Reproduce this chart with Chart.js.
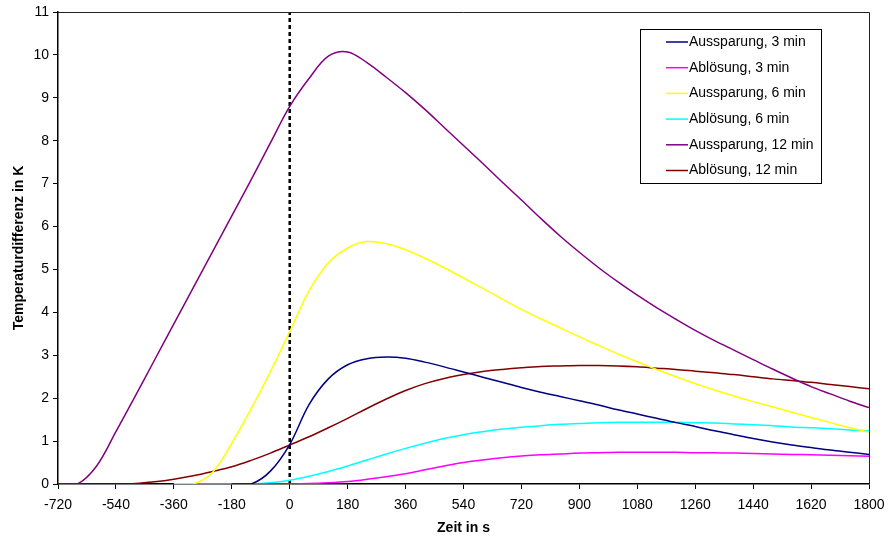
<!DOCTYPE html>
<html>
<head>
<meta charset="utf-8">
<script src="https://cdn.jsdelivr.net/npm/chart.js@4"></script>
<style>
  html, body { margin: 0; padding: 0; background: #fff; }
  #wrap { width: 889px; height: 539px; }
</style>
</head>
<body>
<div id="wrap"><canvas id="chart" width="889" height="539"></canvas></div>
<script>
// time axis in seconds, one sample every 60 s
const times = [
  -720, -660, -600, -540, -480, -420, -360, -300, -240, -180, -120, -60,
  0, 60, 120, 180, 240, 300, 360, 420, 480, 540, 600, 660, 720, 780, 840,
  900, 960, 1020, 1080, 1140, 1200, 1260, 1320, 1380, 1440, 1500, 1560,
  1620, 1680, 1740, 1800
];
const xTicks = [-720, -540, -360, -180, 0, 180, 360, 540, 720, 900, 1080, 1260, 1440, 1620, 1800];
const yTicks = [0, 1, 2, 3, 4, 5, 6, 7, 8, 9, 10, 11];

const aussparung3 = [
  null, null, null, null, null, null, null, null, null, 0, 0, 0.3,
  0.92, 1.85, 2.45, 2.78, 2.92, 2.96, 2.93, 2.84, 2.73, 2.61, 2.49, 2.37, 2.25, 2.14, 2.04,
  1.94, 1.84, 1.73, 1.63, 1.53, 1.43, 1.34, 1.24, 1.15, 1.06, 0.98, 0.91,
  0.85, 0.79, 0.74, 0.69
];
const abloesung3 = [
  null, null, null, null, null, null, null, null, null, 0, 0, 0,
  0, 0.01, 0.03, 0.06, 0.11, 0.17, 0.24, 0.33, 0.42, 0.5, 0.56, 0.61, 0.65, 0.68, 0.7,
  0.72, 0.73, 0.74, 0.74, 0.74, 0.74, 0.73, 0.73, 0.72, 0.71, 0.7, 0.69,
  0.68, 0.67, 0.66, 0.645
];
const aussparung6 = [
  null, null, null, null, null, null, 0, 0, 0.27, 0.95, 1.75, 2.62,
  3.55, 4.5, 5.15, 5.5, 5.65, 5.6, 5.46, 5.26, 5.04, 4.8, 4.56, 4.31, 4.07, 3.85, 3.64,
  3.43, 3.23, 3.03, 2.85, 2.67, 2.5, 2.34, 2.19, 2.05, 1.92, 1.8, 1.67,
  1.55, 1.43, 1.31, 1.21
];
const abloesung6 = [
  null, null, null, null, null, null, 0, 0, 0, 0, 0, 0.03,
  0.09, 0.18, 0.29, 0.42, 0.56, 0.7, 0.83, 0.95, 1.06, 1.15, 1.22, 1.28, 1.32, 1.36, 1.39,
  1.41, 1.43, 1.44, 1.44, 1.44, 1.44, 1.43, 1.42, 1.4, 1.38, 1.36, 1.33,
  1.31, 1.29, 1.26, 1.24
];
const aussparung12 = [
  0, 0, 0.42, 1.22, 2.05, 2.89, 3.73, 4.57, 5.41, 6.25, 7.09, 7.95,
  8.8, 9.45, 9.97, 10.07, 9.82, 9.48, 9.12, 8.73, 8.31, 7.89, 7.47, 7.04, 6.62, 6.19, 5.78,
  5.4, 5.04, 4.71, 4.4, 4.11, 3.84, 3.58, 3.34, 3.12, 2.9, 2.68, 2.47,
  2.27, 2.1, 1.93, 1.78
];
const abloesung12 = [
  0, 0, 0, 0, 0.01, 0.05, 0.11, 0.19, 0.29, 0.4, 0.55, 0.72,
  0.91, 1.1, 1.31, 1.53, 1.76, 1.98, 2.18, 2.34, 2.46, 2.55, 2.62, 2.67, 2.71, 2.74, 2.75,
  2.76, 2.76, 2.75, 2.73, 2.7, 2.67, 2.63, 2.59, 2.55, 2.5, 2.45, 2.41,
  2.37, 2.32, 2.27, 2.22
];

const seriesNames = [
  'Aussparung, 3 min', 'Ablösung, 3 min', 'Aussparung, 6 min',
  'Ablösung, 6 min', 'Aussparung, 12 min', 'Ablösung, 12 min'
];
const seriesValues = [aussparung3, abloesung3, aussparung6, abloesung6, aussparung12, abloesung12];
const seriesColors = ['#000080', '#ff00ff', '#ffff00', '#00ffff', '#800080', '#800000'];

const FONT = 'Liberation Sans, Arial, sans-serif';

function toPoints(values) {
  return times.map((t, i) => ({ x: t, y: values[i] }));
}

const datasets = seriesNames.map((name, i) => ({
  label: name,
  data: toPoints(seriesValues[i]),
  borderColor: seriesColors[i],
  backgroundColor: seriesColors[i],
  borderWidth: 1.5,
  pointRadius: 0,
  tension: 0.35,
  spanGaps: false
}));

// dotted marker line at t = 0
datasets.push({
  label: 'marker',
  data: [{ x: 0, y: 0 }, { x: 0, y: 11 }],
  borderColor: '#000',
  borderWidth: 2.5,
  borderDash: [4, 3],
  pointRadius: 0
});

const framePlugin = {
  id: 'frame',
  afterDatasetsDraw(chart) {
    const { ctx, chartArea: a } = chart;
    ctx.save();
    ctx.strokeStyle = '#222';
    ctx.lineWidth = 1;
    ctx.beginPath();
    ctx.moveTo(a.left, a.top + 0.5);
    ctx.lineTo(a.right + 0.5, a.top + 0.5);
    ctx.lineTo(a.right + 0.5, a.bottom);
    ctx.stroke();
    ctx.restore();
  }
};

const legendPlugin = {
  id: 'boxLegend',
  afterDraw(chart) {
    const { ctx } = chart;
    const left = 640, top = 29, width = 181, height = 154;
    ctx.save();
    ctx.fillStyle = '#fff';
    ctx.fillRect(left, top, width, height);
    ctx.strokeStyle = '#000';
    ctx.lineWidth = 1;
    ctx.strokeRect(left + 0.5, top + 0.5, width, height);
    ctx.font = '14px ' + FONT;
    ctx.textBaseline = 'middle';
    seriesNames.forEach((name, i) => {
      const y = 42 + i * 25.7;
      ctx.strokeStyle = seriesColors[i];
      ctx.lineWidth = 1.5;
      ctx.beginPath();
      ctx.moveTo(666, y);
      ctx.lineTo(688, y);
      ctx.stroke();
      ctx.fillStyle = '#000';
      ctx.fillText(name, 689, y);
    });
    ctx.restore();
  }
};

new Chart(document.getElementById('chart'), {
  type: 'line',
  data: { datasets },
  options: {
    responsive: false,
    animation: false,
    layout: { padding: { left: 0, right: 20, top: 12, bottom: 0 } },
    plugins: {
      legend: { display: false },
      tooltip: { enabled: false }
    },
    scales: {
      x: {
        type: 'linear',
        min: -720,
        max: 1800,
        afterBuildTicks: (scale) => { scale.ticks = xTicks.map((v) => ({ value: v })); },
        afterFit: (scale) => {
          scale.height = 55;
          scale.paddingLeft = 0;
          scale.paddingRight = 0;
        },
        ticks: {
          color: '#000',
          font: { family: FONT, size: 14 },
          maxRotation: 0,
          autoSkip: false,
          padding: 8,
          callback: (v) => String(v)
        },
        grid: {
          drawOnChartArea: false,
          drawTicks: true,
          tickLength: 5,
          color: '#000'
        },
        border: { color: '#000', width: 1.5 },
        title: {
          display: true,
          text: 'Zeit in s',
          color: '#000',
          font: { family: FONT, size: 14, weight: 'bold' },
          padding: { top: 2, bottom: 2 }
        }
      },
      y: {
        min: 0,
        max: 11,
        afterBuildTicks: (scale) => { scale.ticks = yTicks.map((v) => ({ value: v })); },
        afterFit: (scale) => {
          scale.width = 58;
          scale.paddingTop = 0;
          scale.paddingBottom = 0;
        },
        ticks: {
          color: '#000',
          font: { family: FONT, size: 14 },
          padding: 4,
          callback: (v) => String(v)
        },
        grid: {
          drawOnChartArea: false,
          drawTicks: true,
          tickLength: 5,
          color: '#000'
        },
        border: { color: '#000', width: 1.5 },
        title: {
          display: true,
          text: 'Temperaturdifferenz in K',
          color: '#000',
          font: { family: FONT, size: 14, weight: 'bold' },
          padding: { top: 11, bottom: 11 }
        }
      }
    }
  },
  plugins: [framePlugin, legendPlugin]
});
</script>
</body>
</html>
